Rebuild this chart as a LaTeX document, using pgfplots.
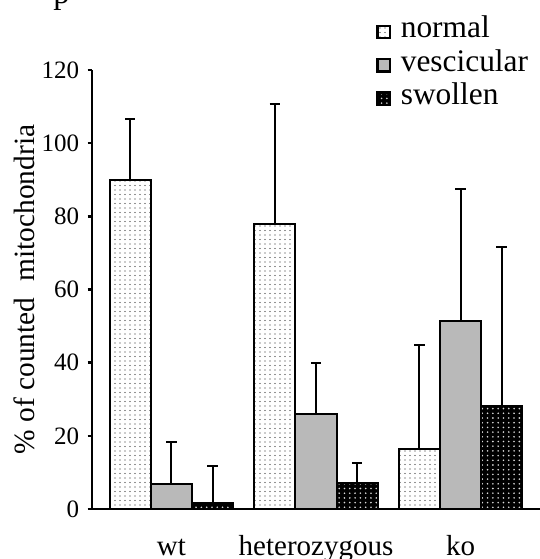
\documentclass[border=0pt]{standalone}
\usepackage{fontspec}
\setmainfont{Liberation Serif}
\usepackage{pgfplots}
\pgfplotsset{compat=1.18}
\usetikzlibrary{patterns}

\pgfdeclarepatternformonly{sdots}{\pgfqpoint{-0.5pt}{-0.5pt}}{\pgfqpoint{0.5pt}{0.5pt}}{\pgfqpoint{2.5pt}{2.25pt}}{%
  \pgfpathcircle{\pgfpoint{0pt}{0pt}}{0.32pt}\pgfusepath{fill}}
\pgfdeclarepatternformonly{wdots}{\pgfqpoint{-0.6pt}{-0.6pt}}{\pgfqpoint{0.6pt}{0.6pt}}{\pgfqpoint{2.65pt}{2.35pt}}{%
  \pgfpathcircle{\pgfpoint{0pt}{0pt}}{0.45pt}\pgfusepath{fill}}

\pgfplotstableread{
x y e
-0.285 90.0 16.6
0.715 77.8 33.0
1.715 16.4 28.3
}\normaldata
\pgfplotstableread{
x y e
0 6.8 11.6
1 26.0 14.0
2 51.5 35.9
}\vescdata
\pgfplotstableread{
x y e
0.285 1.7 10.1
1.285 7.1 5.5
2.285 28.2 43.3
}\swolldata

\begin{document}
\begin{tikzpicture}
\path[use as bounding box] (-46pt,-25pt) rectangle (224pt,254.5pt);
\node[anchor=base west, font=\fontsize{16.4}{18}\selectfont, inner sep=0pt] at (-19.5pt,253pt) {p};
\begin{axis}[
  at={(0pt,0pt)}, anchor=south west,
  width=224pt, height=219.5pt, scale only axis,
  xmin=-0.55, xmax=2.55, ymin=0, ymax=120,
  axis y line*=left, axis x line*=bottom,
  axis line style={line width=1.2pt, -},
  ytick={0,20,...,120},
  xtick={0,1,2}, xticklabels={wt,heterozygous,ko},
  tick align=outside,
  major tick length=2.2pt,
  xtick style={draw=none},
  ytick style={line width=1.2pt, black},
  /pgf/number format/assume math mode=true,
  yticklabel style={font=\fontsize{12.5}{14}\selectfont, anchor=east, inner sep=0pt, xshift=-4pt},
  xticklabel style={font=\fontsize{14.5}{16}\selectfont, anchor=base, yshift=-21pt},
  ylabel={\%~of counted\hspace{0.55em}mitochondria},
  ylabel style={font=\fontsize{14.7}{17}\selectfont, at={(axis description cs:-0.15,0.5)}, anchor=center},
  legend style={draw=none, fill=none, at={(axis description cs:0.634,1.124)}, anchor=north west,
    inner sep=0pt, row sep=3.7pt, font=\fontsize{15.7}{18}\selectfont,
    nodes={inner sep=0pt, text height=11pt, text depth=2pt},
    /tikz/every odd column/.append style={column sep=5pt}},
  legend cell align=left,
  legend image code/.code={\draw[#1, line width=1.1pt] (0.5pt,-4.6pt) rectangle (6.6pt,1.6pt);},
  error bars/y dir=plus, error bars/y explicit, error bars/error mark=-,
  error bars/error bar style={line width=1pt, black, solid},
  error bars/error mark options={line width=1pt, mark size=2.6pt, black, rotate=90},
  clip=false,
]
\addplot[ybar, bar width=0.285, bar shift=0, draw=black, line width=1pt,
  preaction={fill=white}, preaction={pattern=sdots, pattern color=black!85}]
  table[x=x, y=y, y error=e]{\normaldata};
\addplot[ybar, bar width=0.285, bar shift=0, draw=black, line width=1pt,
  preaction={fill=gray!55}]
  table[x=x, y=y, y error=e]{\vescdata};
\addplot[ybar, bar width=0.285, bar shift=0, draw=black, line width=1pt,
  preaction={fill=black}, preaction={pattern=wdots, pattern color=white!85!black}]
  table[x=x, y=y, y error=e]{\swolldata};
\legend{normal,vescicular,swollen}
\end{axis}
\end{tikzpicture}
\end{document}
